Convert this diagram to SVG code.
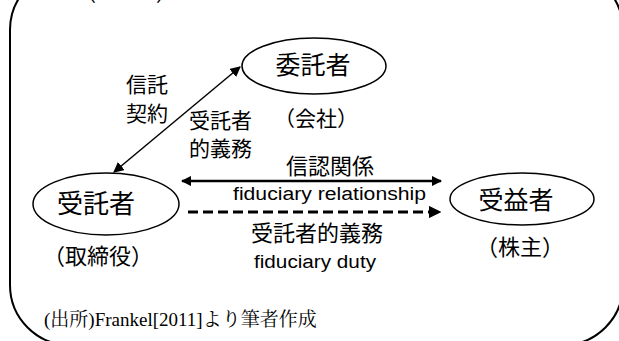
<svg xmlns="http://www.w3.org/2000/svg" width="619" height="341" viewBox="0 0 619 341">
<defs>
<style>
.jp{font-family:"Noto Sans CJK JP","Liberation Sans",sans-serif;fill:#000}
.lat{font-family:"Liberation Sans","Noto Sans CJK JP",sans-serif;fill:#000}
.node{fill:#fff;stroke:#000;stroke-width:1.5}
.conn{stroke:#000;fill:none}
</style>
<marker id="ah" viewBox="0 0 10 10" refX="9" refY="5" markerWidth="7" markerHeight="7" orient="auto-start-reverse" markerUnits="strokeWidth">
<path d="M0,0 L10,5 L0,10 z" fill="#000"/>
</marker>
<marker id="ah2" viewBox="0 0 10 10" refX="9" refY="5" markerWidth="4.2" markerHeight="4.2" orient="auto-start-reverse" markerUnits="strokeWidth">
<path d="M0,0 L10,5 L0,10 z" fill="#000"/>
</marker>
</defs>
<rect x="10" y="-30" width="613" height="375" rx="60" ry="60" fill="none" stroke="#000" stroke-width="2"/>
<text class="jp" x="76" y="1" font-size="20">（　　　）</text>
<g id="conns">
<line class="conn" x1="114" y1="172" x2="240" y2="67" stroke-width="1.5" marker-start="url(#ah)" marker-end="url(#ah)"/>
<line class="conn" x1="182" y1="181" x2="441" y2="181" stroke-width="2.5" marker-start="url(#ah2)" marker-end="url(#ah2)"/>
<line class="conn" x1="188" y1="212" x2="440" y2="212" stroke-width="3" stroke-dasharray="10,5" marker-end="url(#ah2)"/>
</g>
<g id="itakusha">
<ellipse class="node" cx="314" cy="66" rx="72" ry="28"/>
<text class="jp" x="313" y="74" font-size="25" text-anchor="middle">委託者</text>
<text class="jp" x="316" y="126" font-size="21" text-anchor="middle">（会社）</text>
</g>
<g id="jutakusha">
<ellipse class="node" cx="106" cy="204" rx="73" ry="31"/>
<text class="jp" x="96" y="213" font-size="26" text-anchor="middle">受託者</text>
<text class="jp" x="98" y="264" font-size="22" text-anchor="middle">（取締役）</text>
</g>
<g id="jueki">
<ellipse class="node" cx="522" cy="199" rx="72" ry="26"/>
<text class="jp" x="516" y="209" font-size="25" text-anchor="middle">受益者</text>
<text class="jp" x="520" y="255" font-size="22" text-anchor="middle">（株主）</text>
</g>
<g id="labels">
<text class="jp" x="126" y="92" font-size="21">信託</text>
<text class="jp" x="126" y="121" font-size="21">契約</text>
<text class="jp" x="189" y="128" font-size="21">受託者</text>
<text class="jp" x="189" y="156" font-size="21">的義務</text>
<text class="jp" x="330" y="174" font-size="22" text-anchor="middle">信認関係</text>
<text class="lat" x="233" y="200" font-size="18" textLength="193" lengthAdjust="spacingAndGlyphs">fiduciary relationship</text>
<text class="jp" x="317" y="241" font-size="22" text-anchor="middle">受託者的義務</text>
<text class="lat" x="254" y="268" font-size="18" textLength="122" lengthAdjust="spacingAndGlyphs">fiduciary duty</text>
<text x="44" y="326" font-size="19" font-family="Liberation Serif,Noto Serif CJK JP,Noto Sans CJK JP,serif">(出所)Frankel[2011]より筆者作成</text>
</g>
</svg>
